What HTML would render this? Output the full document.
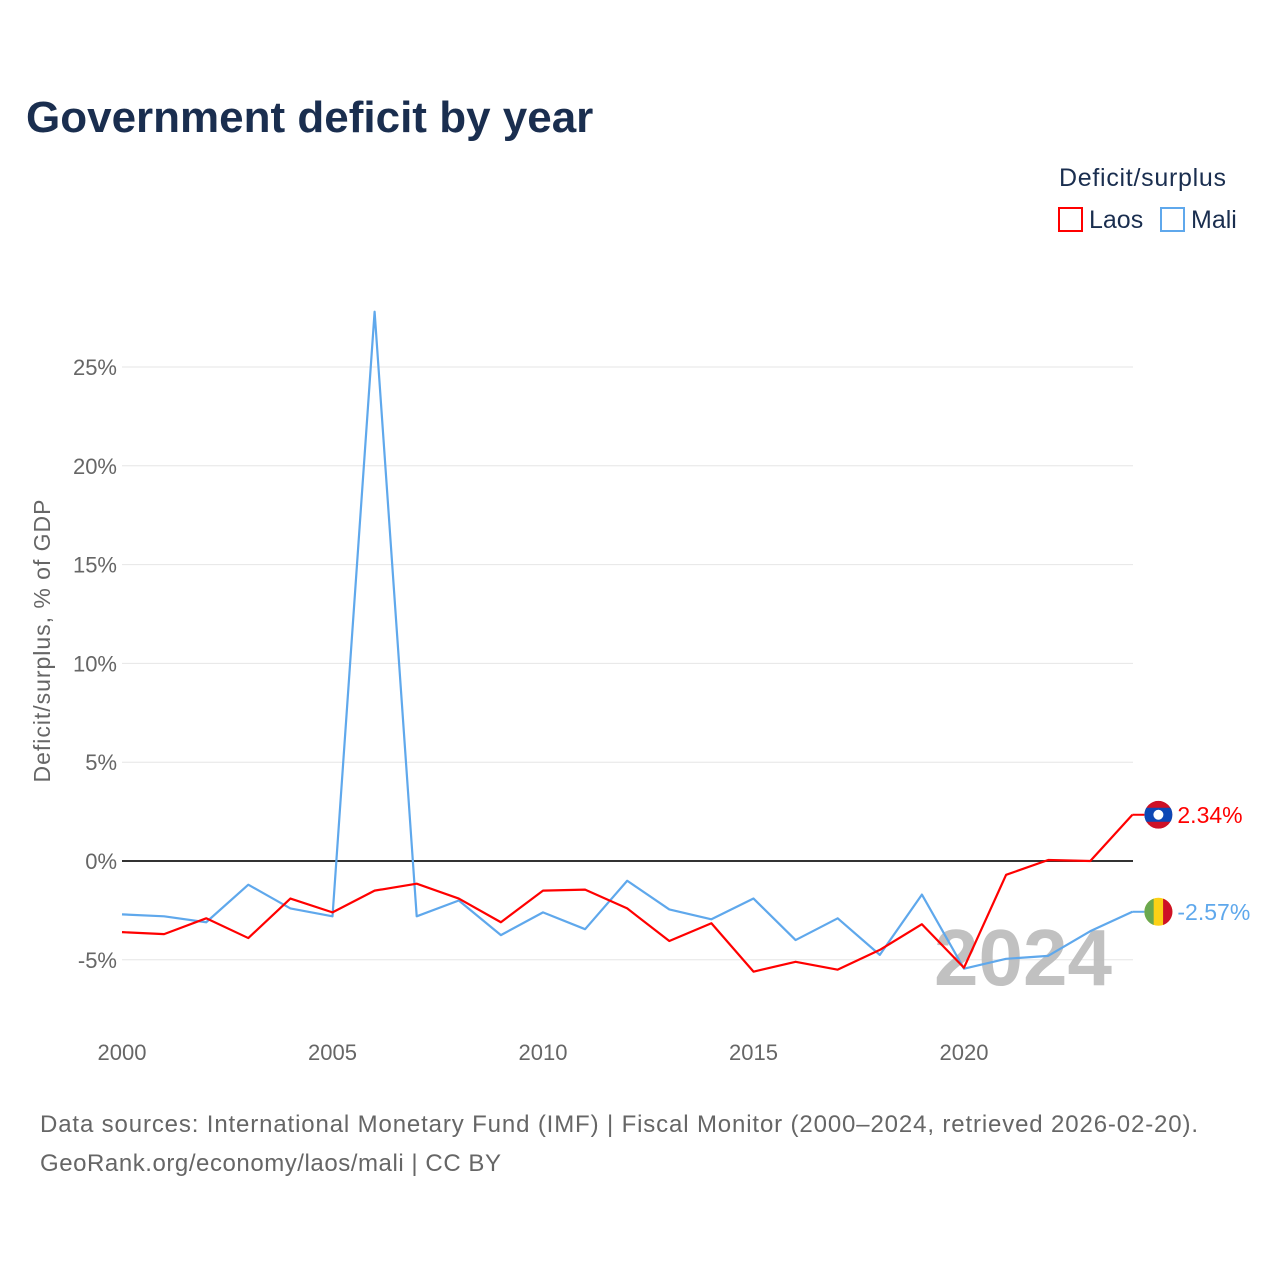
<!DOCTYPE html>
<html><head><meta charset="utf-8"><style>
body{margin:0;background:#fff;font-family:"Liberation Sans",sans-serif}
</style></head><body>
<svg id="chart" width="1280" height="1280" xmlns="http://www.w3.org/2000/svg">
<defs><clipPath id="laosclip"><circle id="laosclipc" cx="0" cy="0" r="14"/></clipPath></defs>
<text x="26" y="132" font-size="44" font-weight="bold" fill="#1a2e4f">Government deficit by year</text>
<text x="1059" y="186" font-size="25" fill="#1a2e4f" textLength="167">Deficit/surplus</text>
<g><rect x="1059" y="208" width="23" height="23" fill="none" stroke="#ff0000" stroke-width="2"/><text x="1089" y="228" font-size="25" fill="#1a2e4f">Laos</text></g>
<g><rect x="1161" y="208" width="23" height="23" fill="none" stroke="#5fa8ec" stroke-width="2"/><text x="1191" y="228" font-size="25" fill="#1a2e4f">Mali</text></g>
<text transform="translate(50,641) rotate(-90)" text-anchor="middle" font-size="23" fill="#666" textLength="283">Deficit/surplus, % of GDP</text>
<g id="grid"></g><g id="ticks"></g>
<text x="1112" y="985" text-anchor="end" font-size="80" font-weight="bold" fill="#bbb" opacity="0.9">2024</text>
<g id="lines"></g><g id="ends"></g>
<text x="40" y="1132" font-size="24" fill="#666" textLength="1158">Data sources: International Monetary Fund (IMF) | Fiscal Monitor (2000–2024, retrieved 2026-02-20).</text>
<text x="40" y="1171" font-size="24" fill="#666" textLength="461">GeoRank.org/economy/laos/mali | CC BY</text>
</svg>
<script>
const years=[2000,2001,2002,2003,2004,2005,2006,2007,2008,2009,2010,2011,2012,2013,2014,2015,2016,2017,2018,2019,2020,2021,2022,2023,2024];
const laos=[-3.6,-3.7,-2.9,-3.9,-1.9,-2.6,-1.5,-1.15,-1.9,-3.1,-1.5,-1.45,-2.4,-4.05,-3.15,-5.6,-5.1,-5.5,-4.5,-3.2,-5.4,-0.7,0.05,0,2.34];
const mali=[-2.7,-2.8,-3.1,-1.2,-2.4,-2.8,27.8,-2.8,-2.0,-3.75,-2.6,-3.45,-1.0,-2.45,-2.95,-1.9,-4.0,-2.9,-4.75,-1.7,-5.45,-4.95,-4.8,-3.55,-2.57];
const yTicks=[-5,0,5,10,15,20,25];
const xTicks=[2000,2005,2010,2015,2020];
const X=y=>122+(y-2000)*42.1;
const Y=v=>861-v*19.76;
const NS="http://www.w3.org/2000/svg";
function mk(t,a,p){const e=document.createElementNS(NS,t);for(const k in a)e.setAttribute(k,a[k]);p.appendChild(e);return e;}
const grid=document.getElementById('grid'),ticks=document.getElementById('ticks'),lines=document.getElementById('lines'),ends=document.getElementById('ends');
yTicks.forEach(v=>{
 const l=mk('line',{x1:122,x2:1133,y1:Y(v),y2:Y(v),stroke:v===0?'#333':'#e6e6e6','stroke-width':v===0?2:1},grid);
 
 
 const t=mk('text',{x:117,y:Y(v)+8,'text-anchor':'end','font-size':22,fill:'#666'},ticks);
 t.textContent=v+'%';
 
 
});
xTicks.forEach(v=>{
 const t=mk('text',{x:X(v),y:1060,'text-anchor':'middle','font-size':22,fill:'#666'},ticks);
 t.textContent=v;
 
 
});
function series(d,c,name){
 const p=mk('polyline',{points:d.map((v,i)=>X(years[i])+','+Y(v)).join(' '),fill:'none',stroke:c,'stroke-width':2.2,'stroke-linejoin':'round'},lines);
 
 
}
series(mali,'#5fa8ec','line-mali');
series(laos,'#ff0000','line-laos');
function end(v,c,name,lab,flag){
 const x=X(2024),y=Y(v);
 mk('line',{x1:x,x2:x+12,y1:y,y2:y,stroke:c,'stroke-width':2},ends);
 const g=mk('g',{},ends);
 
 
 const cx=x+26;
 if(flag==='laos'){
  const cc=document.getElementById('laosclipc');cc.setAttribute('cx',cx);cc.setAttribute('cy',y);
  const fg=mk('g',{'clip-path':'url(#laosclip)'},g);
  mk('circle',{cx:cx,cy:y,r:14,fill:'#ce1126'},fg);
  mk('rect',{x:cx-14,y:y-7,width:28,height:14,fill:'#0d47b5'},fg);
  mk('circle',{cx:cx,cy:y,r:5,fill:'#fff'},fg);
 }else{
  mk('circle',{cx:cx,cy:y,r:14,fill:'#fcd116'},g);
  mk('path',{d:`M${cx-4.7},${y-13.2} A14,14 0 0 0 ${cx-4.7},${y+13.2} Z`,fill:'#6aa84f'},g);
  mk('path',{d:`M${cx+4.7},${y-13.2} A14,14 0 0 1 ${cx+4.7},${y+13.2} Z`,fill:'#ce1126'},g);
 }
 const t=mk('text',{x:cx+19,y:y+8,'font-size':23,fill:c},g);
 t.textContent=lab;
}
end(laos[laos.length-1],'#ff0000','end-label-laos',laos[laos.length-1].toFixed(2)+'%','laos');
end(mali[mali.length-1],'#5fa8ec','end-label-mali',mali[mali.length-1].toFixed(2)+'%','mali');
</script>
</body></html>
